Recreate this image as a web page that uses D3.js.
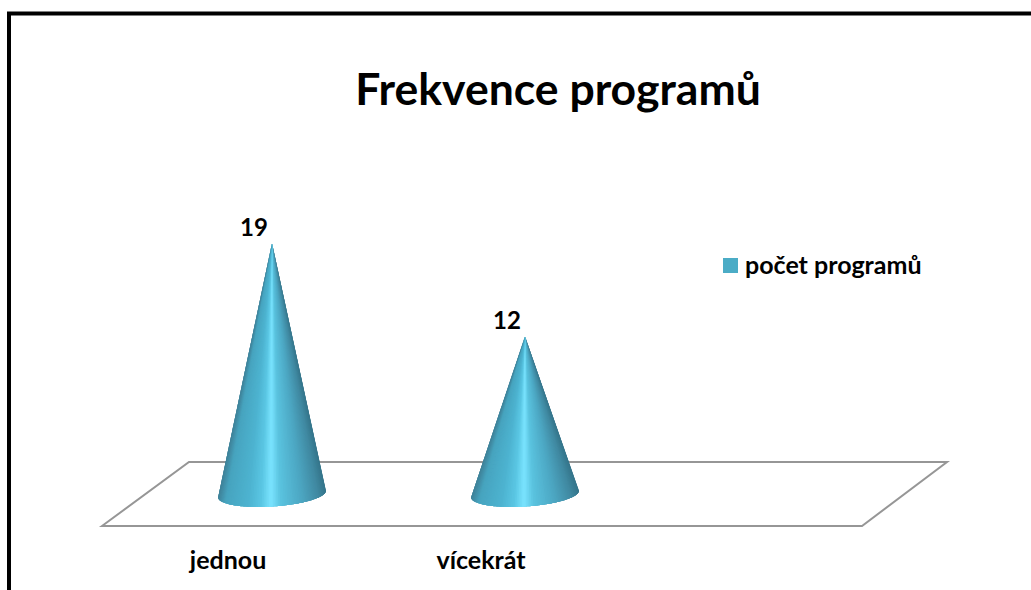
<!doctype html>
<html lang="cs">
<head>
<meta charset="utf-8">
<title>Frekvence programů</title>
<script src="https://cdn.jsdelivr.net/npm/d3@7"></script>
<style>
	html, body { margin: 0; padding: 0; background: #fff; overflow: hidden; }
	text { font-family: Lato, "Open Sans", sans-serif; font-weight: 700; fill: #000; }
</style>
</head>
<body>
<div id="viz"></div>
<script>
// Data
var categories = ["jednou", "vícekrát"];
var values = [19, 12];
var seriesName = "počet programů";
var chartTitle = "Frekvence programů";

// Dimensions
var w = 1031,
	h = 590;

var svg = d3.select("#viz").append("svg")
	.attr("width", w)
	.attr("height", h)
	.style("display", "block");

// Outer frame, runs off the right and bottom of the picture
svg.append("path")
	.attr("d", "M9,590V13.5H1031")
	.attr("fill", "none")
	.attr("stroke", "#000")
	.attr("stroke-width", 4);

// Title
svg.append("text")
	.attr("x", 558)
	.attr("y", 105)
	.attr("text-anchor", "middle")
	.style("font-size", "44.5px")
	.text(chartTitle);

// Floor of the 3d chart
svg.append("path")
	.attr("d", "M102,526L189,462H947L862,526Z")
	.attr("fill", "#fff")
	.attr("stroke", "#969696")
	.attr("stroke-width", 2);

// Scales
var x = d3.scaleBand().domain(categories).range([145.5, 651.5]);
var y = d3.scaleLinear().domain([0, 20]).range([496, 230]);

// Shading across the cone, 0 is the left edge and 1 the right edge
var shade = d3.scaleLinear()
	.domain([0, 0.07, 0.28, 0.4, 0.49, 0.58, 0.78, 0.93, 1])
	.range(["#3f8299", "#47a4bf", "#4db3d0", "#5ac6e3", "#7ae4ff", "#5ac3df", "#4ca6c2", "#4089a1", "#35758b"]);

var baseA = 54,
	baseB = 12.5,
	baseTilt = -3.7 * Math.PI / 180,
	slices = 90;

function basePoint(cx, cy, t) {
	var px = baseA * Math.cos(t),
		py = baseB * Math.sin(t);
	return [
		cx + px * Math.cos(baseTilt) - py * Math.sin(baseTilt),
		cy + px * Math.sin(baseTilt) + py * Math.cos(baseTilt)
	];
}

// Each cone is a fan of thin triangles from the tip to the front of the base.
// Every wedge runs on under the next one, otherwise the seams show up as a moire.
var cones = svg.selectAll("g.cone")
	.data(values)
	.enter()
	.append("g")
	.attr("class", "cone");

cones.each(function(d, i) {
	var cx = x(categories[i]) + x.bandwidth() / 2,
		cy = y(0) - 2,
		tip = [cx, y(d)];

	d3.select(this).selectAll("path")
		.data(d3.range(slices))
		.enter()
		.append("path")
		.attr("d", function(s) {
			var last = Math.min(s + 4, slices),
				pts = d3.range(s, last + 1).map(function(k) {
					return basePoint(cx, cy, Math.PI * k / slices);
				});
			return "M" + tip + "L" + pts.join("L") + "Z";
		})
		.attr("fill", function(s) {
			var p = basePoint(cx, cy, Math.PI * (s + 0.5) / slices);
			return shade((p[0] - (cx - baseA)) / (2 * baseA));
		});
});

// Value labels sit up and left of the tips
svg.selectAll("text.value")
	.data(values)
	.enter()
	.append("text")
	.attr("class", "value")
	.attr("x", function(d, i) { return x(categories[i]) + x.bandwidth() / 2 - 18; })
	.attr("y", function(d) { return y(d) - 7; })
	.attr("text-anchor", "middle")
	.style("font-size", "24px")
	.text(function(d) { return d; });

// Category axis, shifted left the way the floor is drawn
var axis = svg.append("g")
	.attr("transform", "translate(-44,551)")
	.call(d3.axisBottom(x).tickSize(0).tickPadding(0));
axis.select(".domain").remove();
axis.selectAll("text")
	.style("font-size", "25px")
	.attr("dy", "0.71em");

// Legend
svg.append("rect")
	.attr("x", 723)
	.attr("y", 258)
	.attr("width", 15)
	.attr("height", 15)
	.attr("fill", "#4bacc6");

svg.append("text")
	.attr("x", 745)
	.attr("y", 274)
	.style("font-size", "25px")
	.text(seriesName);
</script>
</body>
</html>
